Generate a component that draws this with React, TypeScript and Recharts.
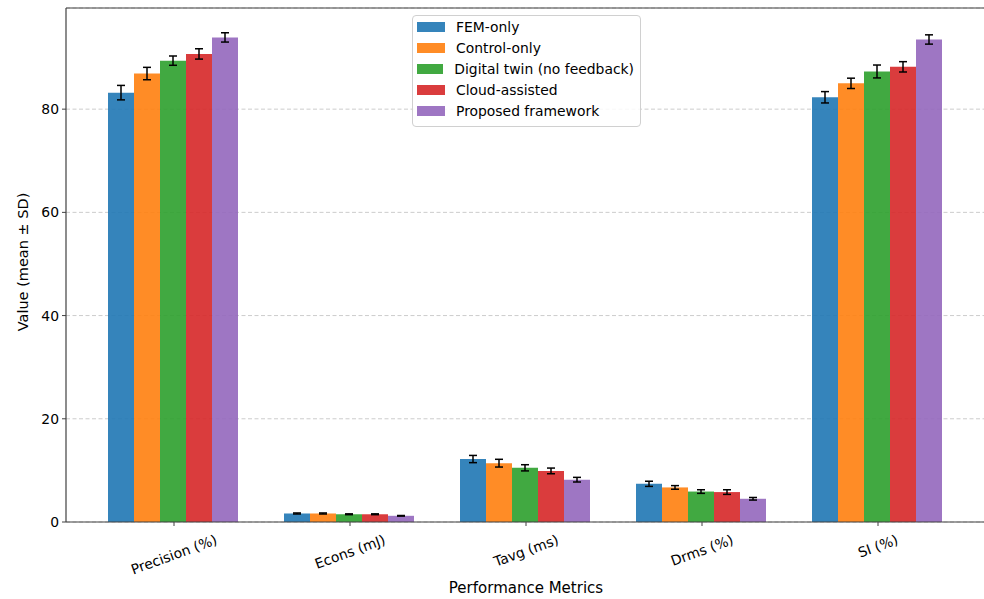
import React from 'react';
import { BarChart, Bar, XAxis, YAxis, CartesianGrid, ErrorBar, Legend, ReferenceLine } from 'recharts';

const metrics = ['Precision (%)', 'Econs (mJ)', 'Tavg (ms)', 'Drms (%)', 'SI (%)'];

const femOnly = [83.2, 1.65, 12.2, 7.4, 82.3];
const femOnlySd = [1.4, 0.1, 0.7, 0.5, 1.1];
const controlOnly = [86.9, 1.65, 11.4, 6.7, 85.0];
const controlOnlySd = [1.2, 0.1, 0.75, 0.35, 1.0];
const digitalTwin = [89.4, 1.5, 10.5, 5.9, 87.3];
const digitalTwinSd = [0.9, 0.08, 0.6, 0.35, 1.25];
const cloudAssisted = [90.7, 1.5, 9.9, 5.8, 88.2];
const cloudAssistedSd = [1.0, 0.08, 0.55, 0.45, 1.0];
const proposed = [93.9, 1.2, 8.2, 4.5, 93.5];
const proposedSd = [0.9, 0.06, 0.45, 0.25, 0.9];

const yTicks = [0, 20, 40, 60, 80];

const series = [
  { key: 'fem', name: 'FEM-only', color: '#1f77b4', values: femOnly, sd: femOnlySd },
  { key: 'ctrl', name: 'Control-only', color: '#ff7f0e', values: controlOnly, sd: controlOnlySd },
  { key: 'dt', name: 'Digital twin (no feedback)', color: '#2ca02c', values: digitalTwin, sd: digitalTwinSd },
  { key: 'cloud', name: 'Cloud-assisted', color: '#d62728', values: cloudAssisted, sd: cloudAssistedSd },
  { key: 'prop', name: 'Proposed framework', color: '#9467bd', values: proposed, sd: proposedSd },
];

const rows = metrics.map((metric, i) => {
  const row: Record<string, any> = { metric };
  series.forEach((s) => {
    row[s.key] = s.values[i];
    row[s.key + 'Sd'] = s.sd[i];
  });
  return row;
});

const FONT = '"DejaVu Sans", sans-serif';
const SPINE = '#404040';

let ctx: CanvasRenderingContext2D | null = null;
const textWidth = (t: string) => {
  if (!ctx) ctx = document.createElement('canvas').getContext('2d');
  if (!ctx) return t.length * 7.5;
  ctx.font = '13.9px "DejaVu Sans"';
  return ctx.measureText(t).width;
};

// rotated category label, centred under its tick like matplotlib rotation=20
const MetricTick = (props: any) => {
  const { x, y, payload } = props;
  const w = textWidth(payload.value);
  const dy = 12 + (w * 0.342 + 10) / 2;
  return (
    <g transform={`translate(${x},${y - 4 + dy}) rotate(-20)`}>
      <text textAnchor="middle" dominantBaseline="central" fontSize={13.9} fill="#000" fontFamily={FONT}>
        {payload.value}
      </text>
    </g>
  );
};

const renderLegend = () => (
  <div
    style={{
      border: '1px solid #d0d0d0',
      borderRadius: 4,
      background: 'rgba(255,255,255,0.85)',
      padding: '0px 6px 5px 4px',
      fontFamily: FONT,
      fontSize: 13.9,
      color: '#000',
    }}
  >
    {series.map((s) => (
      <div key={s.key} style={{ display: 'flex', alignItems: 'center', height: 21, whiteSpace: 'nowrap' }}>
        <span style={{ display: 'inline-block', width: 28, height: 10, background: s.color, opacity: 0.9, marginRight: 11 }} />
        {s.name}
      </div>
    ))}
  </div>
);

export default function App() {
  return (
    <div
      style={{
        position: 'absolute',
        left: 0,
        top: 0,
        width: 984,
        height: 599,
        overflow: 'hidden',
        background: '#fff',
        fontFamily: FONT,
      }}
    >
      <BarChart
        width={1000}
        height={599}
        data={rows}
        margin={{ top: 8, right: 14, bottom: 0, left: 0 }}
        barCategoryGap="12.5%"
        barGap={0}
      >
        <CartesianGrid vertical={false} stroke="#cccccc" strokeDasharray="4 2.5" />
        <XAxis
          dataKey="metric"
          height={77}
          interval={0}
          padding={{ left: 20, right: 20 }}
          axisLine={{ stroke: SPINE, strokeWidth: 1.2 }}
          tickLine={{ stroke: SPINE }}
          tickSize={4}
          tickMargin={0}
          tick={<MetricTick />}
          label={{ value: 'Performance Metrics', position: 'insideBottom', offset: 6, fill: '#000', fontSize: 15 }}
        />
        <YAxis
          domain={[0, 99.6]}
          ticks={yTicks}
          width={66}
          axisLine={{ stroke: SPINE, strokeWidth: 1.2 }}
          tickLine={{ stroke: SPINE }}
          tickSize={4}
          tickMargin={3}
          tick={{ fill: '#000', fontSize: 13.9 }}
          label={{
            content: () => (
              <text
                x={23}
                y={262}
                transform="rotate(-90 23 262)"
                textAnchor="middle"
                dominantBaseline="central"
                fontSize={14.5}
                fill="#000"
                fontFamily={FONT}
              >
                Value (mean ± SD)
              </text>
            ),
          }}
        />
        <ReferenceLine y={99.6} stroke={SPINE} strokeWidth={1.2} ifOverflow="extendDomain" />
        <Legend
          layout="vertical"
          align="center"
          verticalAlign="middle"
          content={renderLegend}
          wrapperStyle={{ left: 412, top: 15, width: 229 }}
        />
        {series.map((s) => (
          <Bar key={s.key} dataKey={s.key} name={s.name} fill={s.color} fillOpacity={0.9} isAnimationActive={false}>
            <ErrorBar dataKey={s.key + 'Sd'} width={4} stroke="#000" strokeWidth={1.5} direction="y" />
          </Bar>
        ))}
      </BarChart>
    </div>
  );
}
